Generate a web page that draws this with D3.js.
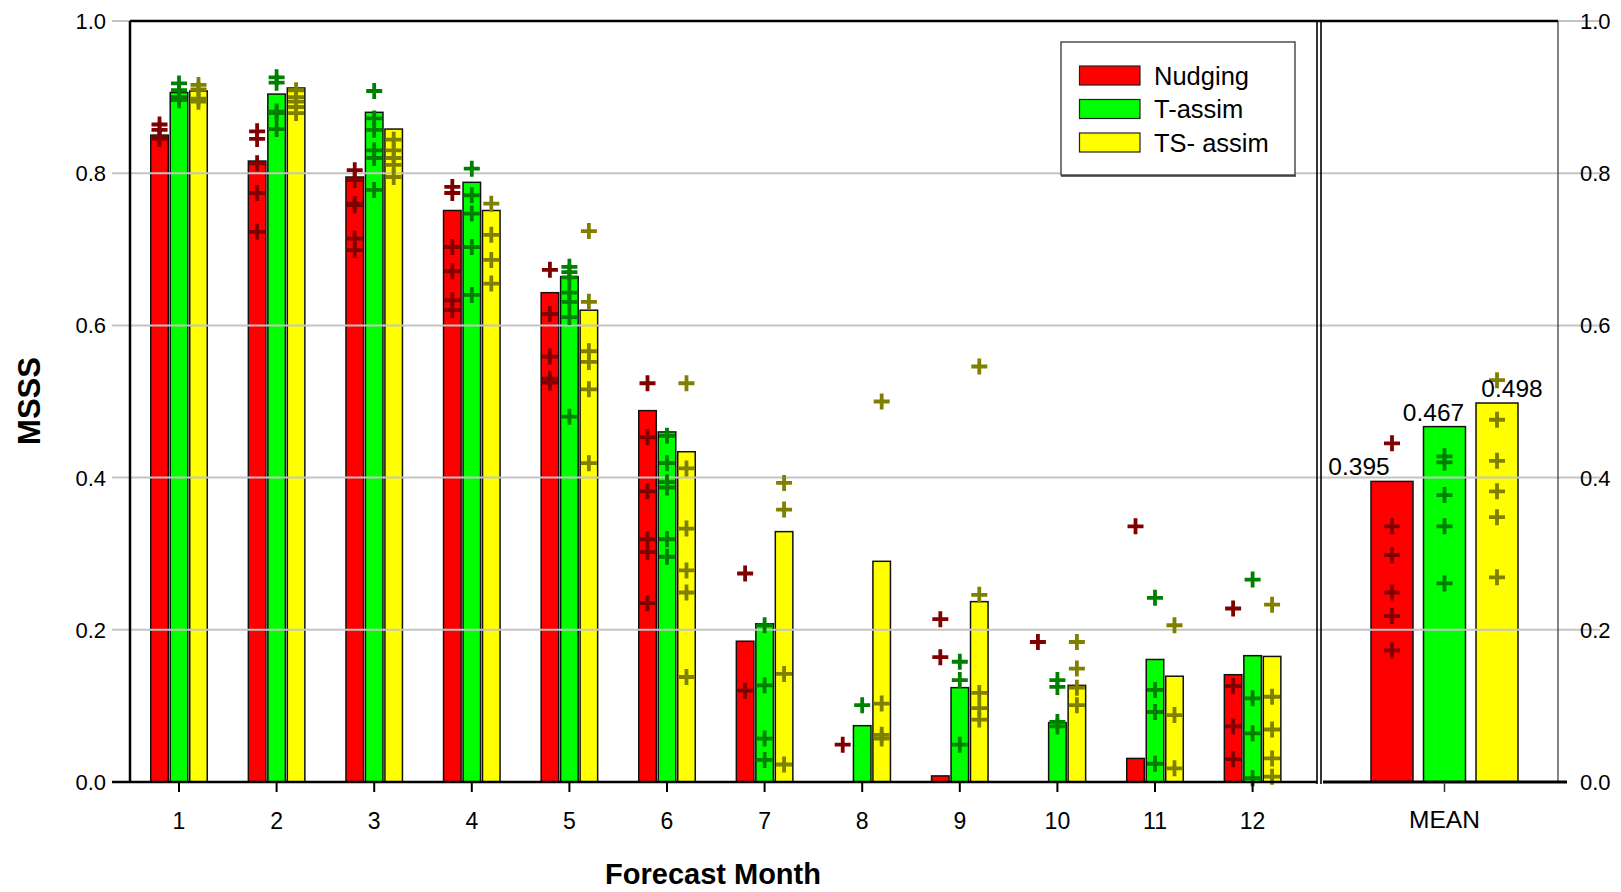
<!DOCTYPE html>
<html>
<head>
<meta charset="utf-8">
<script src="https://cdn.jsdelivr.net/npm/d3@7"></script>
<style>
  html, body { margin: 0; padding: 0; background: #fff; }
  svg { display: block; font-family: "Liberation Sans", Arial, sans-serif; }
</style>
</head>
<body>
<svg id="chart" width="1621" height="892"></svg>
<script>
// ---------------- DATA ----------------
const months = [1, 2, 3, 4, 5, 6, 7, 8, 9, 10, 11, 12];
const seriesNames = ["Nudging", "T-assim", "TS- assim"];
const yTicks = [0.0, 0.2, 0.4, 0.6, 0.8, 1.0];
const yTickLabels = ["0.0", "0.2", "0.4", "0.6", "0.8", "1.0"];
const meanCategory = "MEAN";

// bar values (MSSS of ensemble mean) per month; null = below axis (not drawn)
const nudgingBars = [0.850, 0.816, 0.795, 0.751, 0.643, 0.488, 0.185, null, 0.008, null, 0.031, 0.141];
const tAssimBars  = [0.906, 0.904, 0.880, 0.788, 0.664, 0.460, 0.208, 0.074, 0.124, 0.078, 0.161, 0.166];
const tsAssimBars = [0.908, 0.912, 0.858, 0.751, 0.620, 0.434, 0.329, 0.290, 0.237, 0.127, 0.139, 0.165];

// individual member scores (plus markers)
const nudgingMembers = [
  [0.864, 0.857, 0.848, 0.845],
  [0.855, 0.845, 0.813, 0.774, 0.723],
  [0.804, 0.791, 0.760, 0.758, 0.714, 0.699],
  [0.782, 0.774, 0.703, 0.671, 0.633, 0.620],
  [0.673, 0.615, 0.559, 0.530, 0.525],
  [0.524, 0.453, 0.382, 0.319, 0.302, 0.235],
  [0.274, 0.120],
  [0.049],
  [0.214, 0.164],
  [0.184],
  [0.336],
  [0.228, 0.126, 0.073, 0.030]
];
const tAssimMembers = [
  [0.918, 0.909, 0.900, 0.896],
  [0.926, 0.919, 0.881, 0.879, 0.858],
  [0.908, 0.872, 0.857, 0.830, 0.820, 0.778],
  [0.806, 0.771, 0.747, 0.703, 0.640],
  [0.677, 0.670, 0.663, 0.643, 0.631, 0.611, 0.480],
  [0.455, 0.419, 0.394, 0.387, 0.319, 0.296],
  [0.206, 0.127, 0.057, 0.029],
  [0.101],
  [0.158, 0.134, 0.049],
  [0.134, 0.125, 0.079, 0.073],
  [0.242, 0.121, 0.092, 0.024],
  [0.266, 0.110, 0.064, 0.005]
];
const tsAssimMembers = [
  [0.916, 0.910, 0.898, 0.894],
  [0.909, 0.900, 0.894, 0.887, 0.879],
  [0.844, 0.830, 0.820, 0.811, 0.795],
  [0.760, 0.719, 0.686, 0.655],
  [0.724, 0.631, 0.566, 0.552, 0.516, 0.419],
  [0.524, 0.412, 0.333, 0.278, 0.249, 0.138],
  [0.393, 0.358, 0.142, 0.023],
  [0.500, 0.103, 0.062, 0.057],
  [0.546, 0.246, 0.117, 0.097, 0.082],
  [0.184, 0.149, 0.124, 0.101],
  [0.206, 0.088, 0.018],
  [0.233, 0.112, 0.069, 0.031, 0.007]
];

// MEAN panel
const meanValues = [0.395, 0.467, 0.498];
const meanLabels = ["0.395", "0.467", "0.498"];
const meanMembers = [
  [0.445, 0.336, 0.298, 0.249, 0.218, 0.173],
  [0.428, 0.420, 0.377, 0.336, 0.261],
  [0.528, 0.476, 0.422, 0.382, 0.348, 0.269]
];

// ---------------- STYLE ----------------
const barColors = ["#ff0000", "#00ff00", "#ffff00"];
const plusColors = ["#800000", "#008000", "#808000"];
const gridColor = "#c4c4c4";
const FONT = '"Liberation Sans", Arial, sans-serif';

// ---------------- LAYOUT ----------------
const svg = d3.select("#chart");
const plotTop = 21, plotBottom = 782;
const leftX = 130, dividerX = 1317, rightPanelL = 1321, rightPanelR = 1558;

const y = d3.scaleLinear().domain([0, 1]).range([plotBottom, plotTop]);
const x0 = d3.scaleBand().domain(months).range([130.2, 1301.4]).padding(0);
const x1 = d3.scaleBand().domain(seriesNames).range([-28.25, 28.25]).paddingInner(0.1).paddingOuter(0);
const xm = d3.scaleBand().domain([meanCategory]).range([1321, 1568]);
const xm1 = d3.scaleBand().domain(seriesNames).range([-73.5, 73.5]).paddingInner(0.2).paddingOuter(0);

const barSets = [nudgingBars, tAssimBars, tsAssimBars];
const memberSets = [nudgingMembers, tAssimMembers, tsAssimMembers];

const monthData = [];
months.forEach((m, i) => {
  seriesNames.forEach((s, k) => {
    monthData.push({ m, s, k, v: barSets[k][i], members: memberSets[k][i] });
  });
});
const meanData = seriesNames.map((s, k) => ({ s, k, v: meanValues[k], label: meanLabels[k], members: meanMembers[k] }));

const mcx = d => x0(d.m) + x0.bandwidth() / 2 + x1(d.s) + x1.bandwidth() / 2;
const meanCx = d => xm(meanCategory) + xm.bandwidth() / 2 + xm1(d.s) + xm1.bandwidth() / 2;

// ---------------- BARS ----------------
const gBars = svg.append("g");
gBars.selectAll("rect.mbar").data(monthData.filter(d => d.v !== null)).join("rect")
  .attr("class", "mbar")
  .attr("x", d => x0(d.m) + x0.bandwidth() / 2 + x1(d.s))
  .attr("width", x1.bandwidth())
  .attr("y", d => y(d.v))
  .attr("height", d => y(0) - y(d.v))
  .attr("fill", d => barColors[d.k])
  .attr("stroke", "#111").attr("stroke-width", 1.5);

gBars.selectAll("rect.meanbar").data(meanData).join("rect")
  .attr("class", "meanbar")
  .attr("x", d => xm(meanCategory) + xm.bandwidth() / 2 + xm1(d.s))
  .attr("width", xm1.bandwidth())
  .attr("y", d => y(d.v))
  .attr("height", d => y(0) - y(d.v))
  .attr("fill", d => barColors[d.k])
  .attr("stroke", "#111").attr("stroke-width", 1.5);

// ---------------- GRIDLINES ----------------
svg.append("g").selectAll("line").data(yTicks.filter(t => t > 0)).join("line")
  .attr("x1", 112).attr("x2", 1600)
  .attr("y1", d => y(d)).attr("y2", d => y(d))
  .attr("stroke", gridColor).attr("stroke-width", 2);

// ---------------- PLUS MARKERS ----------------
const plusPath = "M-8,0H8M0,-8V8";
const plusPts = [];
monthData.forEach(d => d.members.forEach(v => plusPts.push({ x: mcx(d), v, k: d.k })));
meanData.forEach(d => d.members.forEach(v => plusPts.push({ x: meanCx(d), v, k: d.k })));
svg.append("g").selectAll("path").data(plusPts).join("path")
  .attr("d", plusPath)
  .attr("transform", d => `translate(${d.x},${y(d.v)})`)
  .attr("stroke", d => plusColors[d.k]).attr("stroke-width", 3.8).attr("fill", "none");

// ---------------- FRAMES ----------------
const frame = svg.append("g").attr("stroke", "#000").attr("fill", "none");
frame.append("line").attr("x1", leftX).attr("x2", rightPanelR).attr("y1", y(1)).attr("y2", y(1)).attr("stroke-width", 2.5);
frame.append("line").attr("x1", leftX).attr("x2", leftX).attr("y1", y(1)).attr("y2", y(0)).attr("stroke-width", 2.5);
frame.append("line").attr("x1", dividerX).attr("x2", dividerX).attr("y1", y(1)).attr("y2", y(0) + 2).attr("stroke-width", 1.6);
frame.append("line").attr("x1", rightPanelL).attr("x2", rightPanelL).attr("y1", y(1)).attr("y2", y(0) + 2).attr("stroke-width", 1.6);
frame.append("line").attr("x1", rightPanelR).attr("x2", rightPanelR).attr("y1", y(1)).attr("y2", y(0)).attr("stroke-width", 1.2).attr("stroke", "#333");
frame.append("line").attr("x1", 112).attr("x2", dividerX).attr("y1", y(0)).attr("y2", y(0)).attr("stroke-width", 2.5);
frame.append("line").attr("x1", rightPanelL + 2).attr("x2", 1567).attr("y1", y(0)).attr("y2", y(0)).attr("stroke-width", 3);

// ---------------- AXES ----------------
// left y labels
svg.append("g").selectAll("text").data(yTicks).join("text")
  .attr("x", 106).attr("y", d => y(d)).attr("dy", "0.36em")
  .attr("text-anchor", "end").attr("font-size", 22).attr("fill", "#000")
  .text((d, i) => yTickLabels[i]);
// right y labels
svg.append("g").selectAll("text").data(yTicks).join("text")
  .attr("x", 1580).attr("y", d => y(d)).attr("dy", "0.36em")
  .attr("text-anchor", "start").attr("font-size", 22).attr("fill", "#000")
  .text((d, i) => yTickLabels[i]);

// x axis (months) using d3 axis
const xAxis = d3.axisBottom(x0).tickSize(10).tickPadding(21);
const gx = svg.append("g").attr("transform", `translate(0,${y(0)})`).call(xAxis);
gx.select(".domain").remove();
gx.selectAll(".tick line").attr("stroke", "#000").attr("stroke-width", 2);
gx.selectAll(".tick text").attr("font-size", 23).attr("font-family", FONT).attr("fill", "#000");

const xmAxis = d3.axisBottom(xm).tickSize(10).tickPadding(19);
const gxm = svg.append("g").attr("transform", `translate(0,${y(0)})`).call(xmAxis);
gxm.select(".domain").remove();
gxm.selectAll(".tick line").attr("stroke", "#333").attr("stroke-width", 1.5);
gxm.selectAll(".tick text").attr("font-size", 24.5).attr("font-family", FONT).attr("fill", "#000");

// mean value labels
const labelDx = [-33, -11, 15];
svg.append("g").selectAll("text").data(meanData).join("text")
  .attr("x", d => meanCx(d) + labelDx[d.k])
  .attr("y", d => y(d.v) - 6)
  .attr("text-anchor", "middle").attr("font-size", 24.5).attr("fill", "#000")
  .text(d => d.label);

// axis titles
svg.append("text").attr("x", 713).attr("y", 884).attr("text-anchor", "middle")
  .attr("font-size", 29).attr("font-weight", "bold").text("Forecast Month");
svg.append("text").attr("transform", "translate(40,401) rotate(-90)").attr("text-anchor", "middle")
  .attr("font-size", 31).attr("font-weight", "bold").text("MSSS");

// ---------------- LEGEND ----------------
const lg = svg.append("g");
lg.append("rect").attr("x", 1061).attr("y", 42).attr("width", 234).attr("height", 133)
  .attr("fill", "#fff").attr("stroke", "#333").attr("stroke-width", 1.3);
lg.append("line").attr("x1", 1061).attr("x2", 1296).attr("y1", 176).attr("y2", 176).attr("stroke", "#333").attr("stroke-width", 1.5);
const ly = d3.scalePoint().domain(seriesNames).range([75.5, 142.5]);
lg.selectAll("rect.sw").data(seriesNames).join("rect").attr("class", "sw")
  .attr("x", 1079.5).attr("y", d => ly(d) - 9.5).attr("width", 60.5).attr("height", 19)
  .attr("fill", (d, i) => barColors[i]).attr("stroke", "#222").attr("stroke-width", 1.2);
lg.selectAll("text").data(seriesNames).join("text")
  .attr("x", 1154).attr("y", d => ly(d)).attr("dy", "0.36em")
  .attr("font-size", 25.5).attr("fill", "#000").text(d => d);
</script>
</body>
</html>
